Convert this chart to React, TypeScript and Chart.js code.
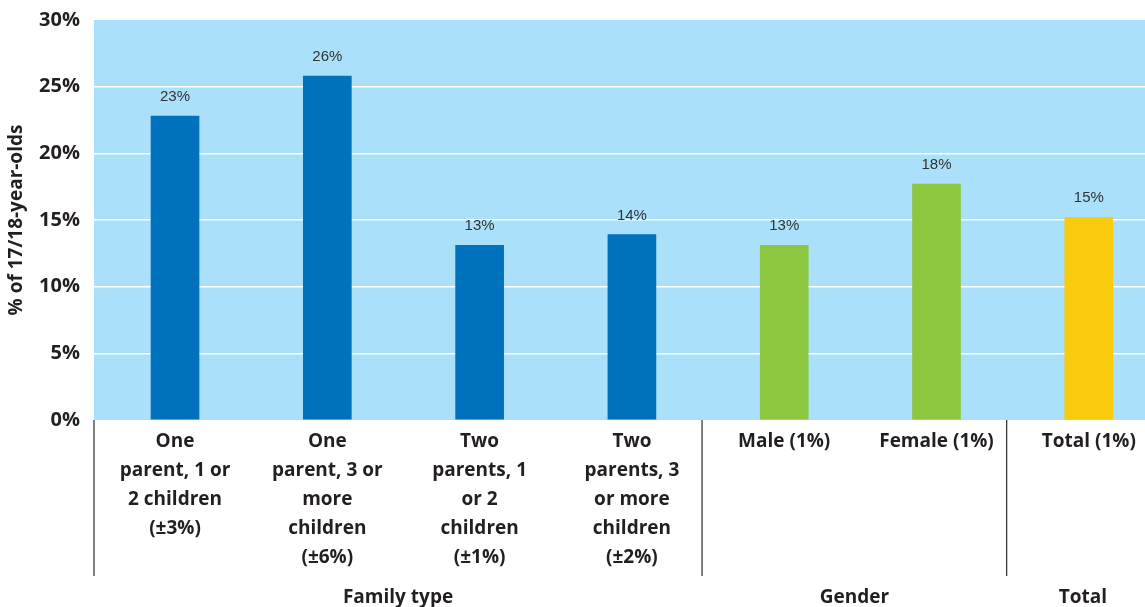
import React, { useEffect, useRef } from "react";
import { Chart, registerables } from "chart.js";

Chart.register(...registerables);

const categories: string[][] = [
  ["One", "parent, 1 or", "2 children", "(±3%)"],
  ["One", "parent, 3 or", "more", "children", "(±6%)"],
  ["Two", "parents, 1", "or 2", "children", "(±1%)"],
  ["Two", "parents, 3", "or more", "children", "(±2%)"],
  ["Male (1%)"],
  ["Female (1%)"],
  ["Total (1%)"],
];
const values: number[] = [22.8, 25.8, 13.1, 13.9, 13.1, 17.7, 15.2];
const valueLabels: string[] = ["23%", "26%", "13%", "14%", "13%", "18%", "15%"];
const barColors: string[] = ["#0071bc", "#0071bc", "#0071bc", "#0071bc", "#8dc63f", "#8dc63f", "#f9cb0e"];
const groupNames: string[] = ["Family type", "Gender", "Total"];
const groupStarts: number[] = [0, 4, 6];
const groupEnds: number[] = [3, 5, 6];
const yTicks: number[] = [0, 5, 10, 15, 20, 25, 30];

const TEXT = "#231f20";
const LABEL_FONT = "'Open Sans', 'Noto Sans', sans-serif";

export default function App() {
  const ref = useRef<HTMLCanvasElement | null>(null);
  useEffect(() => {
    document.body.style.margin = "0";
    const canvas = ref.current!;
    const bgPlugin = {
      id: "bg",
      beforeDraw(chart: any) {
        const { ctx, chartArea } = chart;
        ctx.save();
        ctx.fillStyle = "#aae0fa";
        ctx.fillRect(chartArea.left, chartArea.top, chartArea.right - chartArea.left, chartArea.bottom - chartArea.top);
        ctx.restore();
      },
    };
    const labelPlugin = {
      id: "labels",
      afterDraw(chart: any) {
        const { ctx, chartArea } = chart;
        const xs = chart.scales.x;
        const ys = chart.scales.y;
        ctx.save();
        // value labels
        ctx.fillStyle = "#333333";
        ctx.font = "15px 'Liberation Sans', Arial, sans-serif";
        ctx.textAlign = "center";
        ctx.textBaseline = "alphabetic";
        values.forEach((v, i) => {
          ctx.fillText(valueLabels[i], xs.getPixelForValue(i), ys.getPixelForValue(v) - 15);
        });
        // category labels
        ctx.fillStyle = TEXT;
        ctx.font = "bold 19px " + LABEL_FONT;
        ctx.textBaseline = "middle";
        categories.forEach((lines, i) => {
          lines.forEach((line, j) => {
            ctx.fillText(line, xs.getPixelForValue(i), 442 + j * 29);
          });
        });
        // separators
        const bottom = chartArea.bottom;
        const sepPix: number[] = [];
        groupStarts.forEach((s, gi) => {
          const left = gi === 0 ? chartArea.left : xs.getPixelForValue(s - 0.5) - 6;
          sepPix.push(left);
        });
        ctx.strokeStyle = "#3a3a3a";
        ctx.lineWidth = 1.3;
        sepPix.forEach((px) => {
          ctx.beginPath();
          ctx.moveTo(px, bottom);
          ctx.lineTo(px, 576);
          ctx.stroke();
        });
        // group labels
        groupNames.forEach((name, gi) => {
          const left = sepPix[gi];
          const right = xs.getPixelForValue(groupEnds[gi] + 0.5) - 6;
          ctx.fillText(name, (left + right) / 2, 598);
        });
        ctx.restore();
      },
    };
    const chart = new Chart(canvas, {
      type: "bar",
      data: {
        datasets: [
          {
            data: values.map((v, i) => ({ x: i, y: v })),
            backgroundColor: barColors,
            barThickness: 48,
            borderWidth: 0,
          },
        ],
      },
      options: {
        animation: false,
        responsive: false,
        maintainAspectRatio: false,
        layout: { padding: { top: 20, right: 0, bottom: 187, left: 0 } },
        plugins: { legend: { display: false }, tooltip: { enabled: false } },
        scales: {
          x: {
            type: "linear",
            min: -0.532,
            max: 6.369,
            offset: false,
            display: false,
          },
          y: {
            min: 0,
            max: 30,
            afterFit(scale: any) {
              scale.width = 94;
              scale.paddingTop = 0;
              scale.paddingBottom = 0;
            },
            afterBuildTicks(scale: any) {
              scale.ticks = yTicks.map((v) => ({ value: v }));
            },
            ticks: {
              callback: (v: any) => v + "%",
              color: TEXT,
              font: { family: LABEL_FONT, size: 20, weight: "bold" },
              padding: 14,
            },
            grid: {
              color: (c: any) => (c.tick && (c.tick.value === 0 || c.tick.value === 30) ? "rgba(0,0,0,0)" : "#ffffff"),
              lineWidth: 1.5,
              drawTicks: false,
            },
            border: { display: false },
            title: {
              display: true,
              text: "% of 17/18-year-olds",
              color: TEXT,
              font: { family: LABEL_FONT, size: 19, weight: "bold" },
              padding: { top: 5, bottom: 0 },
            },
          },
        },
      },
      plugins: [bgPlugin, labelPlugin],
    } as any);
    return () => chart.destroy();
  }, []);
  return (
    <div style={{ width: 1145, height: 607 }}>
      <canvas ref={ref} width={1145} height={607} style={{ display: "block" }} />
    </div>
  );
}
